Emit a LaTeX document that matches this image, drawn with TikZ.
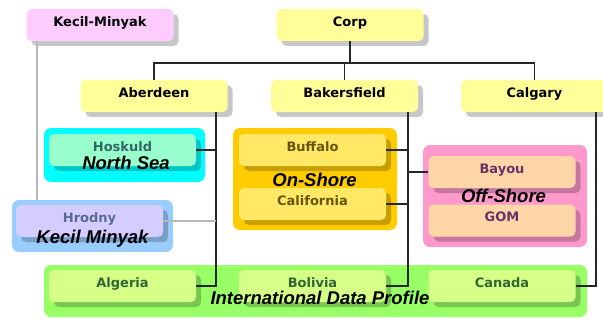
\documentclass[tikz,border=0pt]{standalone}
\usepackage{fontspec}
\setsansfont{DejaVu Sans}
\newfontfamily\grpfont{Liberation Sans}
\usetikzlibrary{shadows}
\definecolor{topyellow}{HTML}{FFFF99}
\definecolor{toppink}{HTML}{FFCCFF}
\definecolor{nsouter}{HTML}{00FFFF}
\definecolor{nsinner}{HTML}{99FFCC}
\definecolor{nstext}{HTML}{336666}
\definecolor{kmouter}{HTML}{99CCFF}
\definecolor{kminner}{HTML}{D5CCFF}
\definecolor{kmtext}{HTML}{586E8A}
\definecolor{onouter}{HTML}{FFCC00}
\definecolor{oninner}{HTML}{FFE866}
\definecolor{ontext}{HTML}{665500}
\definecolor{offouter}{HTML}{FF99CC}
\definecolor{offinner}{HTML}{FFD6A8}
\definecolor{offtext}{HTML}{663366}
\definecolor{intouter}{HTML}{99FF66}
\definecolor{intinner}{HTML}{D6FF88}
\definecolor{inttext}{HTML}{336633}
\begin{document}
\begin{tikzpicture}[x=1pt,y=-1pt,
    box/.style={rectangle,rounded corners=5pt,minimum width=147pt,minimum height=32pt,
      inner ysep=0pt,text height=9.5pt,text depth=7pt,
      font=\sffamily\bfseries\fontsize{13}{15}\selectfont,
      drop shadow={shadow xshift=5pt,shadow yshift=-5pt,fill=black,opacity=.22}},
    grp/.style={rectangle,rounded corners=7pt,inner sep=0pt},
    grptext/.style={font=\grpfont\bfseries\itshape\fontsize{18.5}{20}\selectfont,inner sep=0pt},
    link/.style={line width=1.8pt,black!85},
    glink/.style={line width=1.8pt,black!28}]
    \useasboundingbox (0,0) rectangle (603,321);
    % group frames
    \node [grp,fill=nsouter,minimum width=161pt,minimum height=54pt] (nsgrp) at (124.5,155) {};
    \node [grp,fill=kmouter,minimum width=161pt,minimum height=52pt] (kmgrp) at (92.5,226) {};
    \node [grp,fill=onouter,minimum width=164pt,minimum height=102pt] (ongrp) at (315,179) {};
    \node [grp,fill=offouter,minimum width=164pt,minimum height=102pt] (offgrp) at (505,196) {};
    \node [grp,fill=intouter,minimum width=543pt,minimum height=52pt] (intgrp) at (315.5,291) {};
    % top levels
    \node [box,fill=toppink] (kecil) at (100,25) {Kecil-Minyak};
    \node [box,fill=topyellow] (corp) at (350,25) {Corp};
    \node [box,fill=topyellow] (aberdeen) at (154,96) {Aberdeen};
    \node [box,fill=topyellow] (bakersfield) at (344.5,96) {Bakersfield};
    \node [box,fill=topyellow] (calgary) at (534.5,96) {Calgary};
    % fields
    \node [box,fill=nsinner,text=nstext] (hoskuld) at (122.5,150) {Hoskuld};
    \node [box,fill=kminner,text=kmtext] (hrodny) at (89.5,221) {Hrodny};
    \node [box,fill=oninner,text=ontext] (buffalo) at (312.5,150) {Buffalo};
    \node [box,fill=oninner,text=ontext] (california) at (312.5,204) {California};
    \node [box,fill=offinner,text=offtext] (bayou) at (502,172) {Bayou};
    \node [box,fill=offinner,text=offtext] (gom) at (502,220.5) {GOM};
    \node [box,fill=intinner,text=inttext] (algeria) at (122.5,286) {Algeria};
    \node [box,fill=intinner,text=inttext] (bolivia) at (312.5,286) {Bolivia};
    \node [box,fill=intinner,text=inttext] (canada) at (502,286) {Canada};
    % connectors
    \coordinate (bus) at (350,63);
    \draw [link] (corp) -- (bus) -| (aberdeen);
    \draw [link] (bus) -| (bakersfield);
    \draw [link] (bus) -| (calgary);
    \coordinate (atrunk) at ([xshift=-12pt]aberdeen.south east);
    \draw [link] (atrunk) |- (algeria);
    \draw [link] (hoskuld) -- (hoskuld -| atrunk);
    \draw [glink] (hrodny) -- (hrodny -| atrunk);
    \coordinate (btrunk) at ([xshift=-10pt]bakersfield.south east);
    \draw [link] (btrunk) |- (bolivia);
    \draw [link] (buffalo) -- (buffalo -| btrunk);
    \draw [link] (california) -- (california -| btrunk);
    \draw [link] (bayou) -- (bayou -| btrunk);
    \coordinate (ctrunk) at ([xshift=-12pt]calgary.south east);
    \draw [link] (ctrunk) |- (canada);
    \coordinate (kmdrop) at ([xshift=11pt]kecil.south west);
    \draw [glink] (kmdrop) -- (kmdrop |- kmgrp.north);
    % group names
    \node [grptext] (nsname) at (126,162.5) {North Sea};
    \node [grptext] (kmname) at (92.5,239) {Kecil Minyak};
    \node [grptext] (onname) at (314.5,180) {On-Shore};
    \node [grptext] (offname) at (503.5,196) {Off-Shore};
    \node [grptext] (intname) at (320,298) {International Data Profile};
\end{tikzpicture}
\end{document}
